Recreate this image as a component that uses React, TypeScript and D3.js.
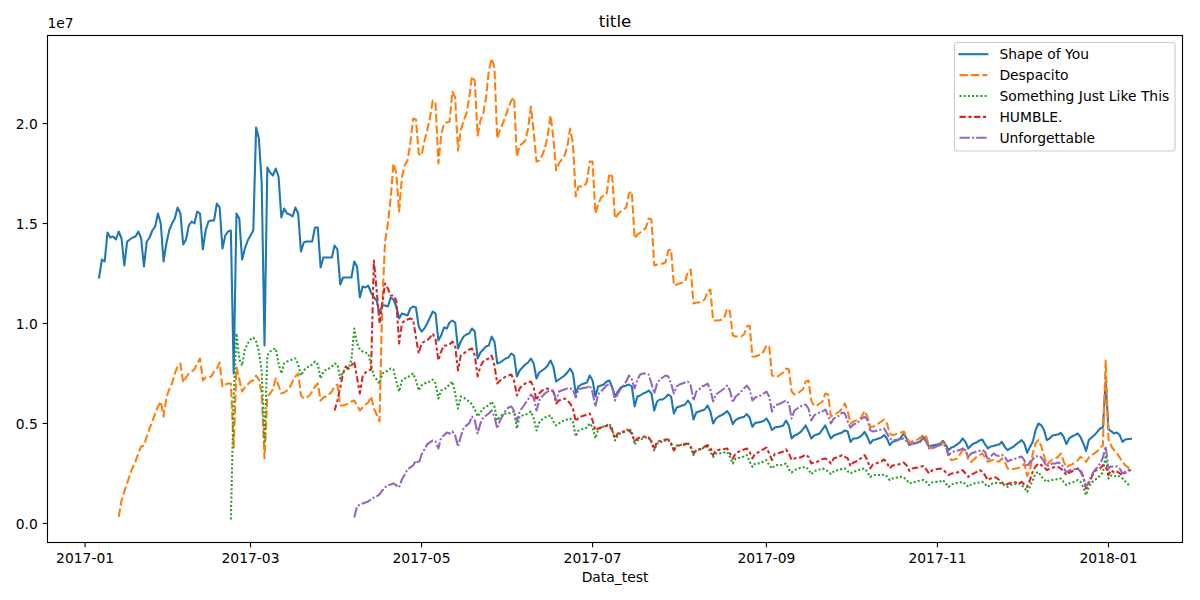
import React from "react";
import * as d3 from "d3";

// ---- data (daily streams, in millions) ----
const seriesNames = ["Shape of You", "Despacito", "Something Just Like This", "HUMBLE.", "Unforgettable"];
const seriesColors = ["#1f77b4", "#ff7f0e", "#2ca02c", "#d62728", "#9467bd"];
// seaborn style dashes (in units of line width)
const seriesDashes: number[][] = [[], [4, 1.5], [1, 1], [3, 1.25, 1.5, 1.25], [5, 1, 1, 1]];
const seriesStarts = ["2017-01-06", "2017-01-13", "2017-02-22", "2017-03-31", "2017-04-07"];

const shapeOfYou = [
  12.3, 13.2,
  13.1, 14.55, 14.3, 14.35, 14.2, 14.6, 14.25,
  12.9, 14.1, 14.2, 14.3, 14.35, 14.6, 14.25,
  12.85, 14.1, 14.3, 14.65, 14.85, 15.5, 15.0,
  13.1, 14.0, 14.65, 15.0, 15.25, 15.8, 15.5,
  13.95, 14.2, 14.9, 15.1, 15.0, 15.6, 15.5,
  13.7, 14.65, 15.1, 15.15, 15.15, 16.0, 15.8,
  13.75, 14.4, 14.6, 14.65, 7.5, 15.5, 15.25,
  13.2, 13.75, 14.15, 14.4, 14.65, 19.8, 19.25,
  17.0, 8.9, 17.8, 17.55, 17.4, 17.75, 17.35,
  15.3, 15.75, 15.5, 15.45, 15.35, 15.8, 15.5,
  13.6, 14.05, 14.1, 14.1, 14.1, 14.8, 14.8,
  12.8, 13.3, 13.3, 13.3, 13.3, 13.9, 13.7,
  11.95, 12.3, 12.3, 12.3, 12.3, 13.1, 12.85,
  11.3, 11.85, 11.8, 11.9, 11.55, 11.3, 11.15,
  10.5, 10.9, 10.9, 10.85, 11.3, 11.2, 10.85,
  10.25, 10.5, 10.45, 10.4, 10.75, 10.85, 10.8,
  9.85, 9.6, 9.75, 10.0, 10.3, 10.6, 10.5,
  9.15, 9.4, 9.8, 9.75, 10.05, 10.15, 10.05,
  8.75, 9.1, 9.35, 9.45, 9.5, 9.75, 9.6,
  8.25, 8.55, 8.7, 8.85, 8.9, 9.35, 9.1,
  8.0, 8.05, 8.15, 8.25, 8.3, 8.5, 8.4,
  7.35, 7.65, 7.8, 7.95, 8.05, 8.25, 8.0,
  7.25, 7.55, 7.65, 7.75, 7.9, 8.15, 7.85,
  7.1, 7.2, 7.3, 7.4, 7.55, 7.75, 7.5,
  6.5, 6.85, 6.95, 7.0, 7.05, 7.4, 7.15,
  6.35, 6.85, 6.9, 6.95, 7.1, 7.15, 6.8,
  6.35, 6.6, 6.8, 6.85, 6.9, 6.95, 6.85,
  5.85, 6.35, 6.4, 6.5, 6.55, 6.65, 6.5,
  5.65, 6.1, 6.2, 6.2, 6.3, 6.45, 6.35,
  5.5, 5.8, 5.85, 5.9, 5.95, 6.15, 5.95,
  5.2, 5.55, 5.6, 5.65, 5.7, 5.9, 5.6,
  5.0, 5.25, 5.35, 5.42, 5.5, 5.62, 5.42,
  4.97, 5.17, 5.25, 5.3, 5.33, 5.47, 5.3,
  4.83, 5.03, 5.05, 5.08, 5.12, 5.25, 5.03,
  4.67, 4.8, 4.83, 4.85, 4.9, 5.15, 4.9,
  4.25, 4.4, 4.45, 4.55, 4.7, 4.9, 4.6,
  4.25, 4.4, 4.45, 4.5, 4.7, 4.9, 4.55,
  4.25, 4.4, 4.45, 4.5, 4.55, 4.65, 4.6,
  4.08, 4.25, 4.25, 4.3, 4.4, 4.58, 4.33,
  4.0, 4.17, 4.2, 4.25, 4.3, 4.42, 4.25,
  3.92, 4.08, 4.12, 4.17, 4.3, 4.5, 4.25,
  3.92, 4.0, 4.0, 4.05, 4.12, 4.33, 4.17,
  3.83, 3.9, 3.92, 3.95, 4.0, 4.13, 3.92,
  3.67, 3.8, 3.85, 3.95, 4.05, 4.25, 4.08,
  3.75, 3.9, 4.0, 4.05, 4.15, 4.2, 3.95,
  3.75, 3.85, 3.87, 3.92, 3.95, 4.08, 3.83,
  3.67, 3.75, 3.83, 3.95, 4.05, 4.17, 4.0,
  3.53, 3.83, 4.08, 4.67, 5.0, 4.92, 4.67,
  4.17, 4.25, 4.4, 4.42, 4.45, 4.53, 4.33,
  3.97, 4.25, 4.35, 4.42, 4.5, 4.33, 4.0,
  3.63, 4.17, 4.3, 4.42, 4.58, 4.75, 4.8,
  7.1, 4.7, 4.6, 4.5, 4.55, 4.42, 4.08,
  4.2, 4.22, 4.23,
];

const despacito = [
  0.33, 1.15,
  1.6, 2.0, 2.45, 2.8, 3.1, 3.5, 3.85,
  3.9, 4.35, 4.75, 5.1, 5.5, 5.85, 6.1,
  5.35, 6.3, 6.7, 7.0, 7.5, 7.85, 8.0,
  7.05, 7.3, 7.5, 7.6, 7.7, 8.0, 8.25,
  7.15, 7.3, 7.3, 7.35, 7.6, 7.75, 8.05,
  6.85, 6.95, 7.0, 7.0, 3.8, 7.8, 7.2,
  6.6, 6.8, 6.95, 7.1, 7.15, 7.4, 7.2,
  6.5, 3.25, 6.35, 6.5, 6.7, 7.25, 6.9,
  6.5, 6.55, 6.65, 6.8, 7.1, 7.35, 7.5,
  6.4, 6.25, 6.3, 6.4, 6.6, 6.85, 7.0,
  6.15, 6.3, 6.35, 6.45, 6.6, 6.85, 6.95,
  5.9, 5.9, 5.95, 6.0, 6.1, 6.15, 5.9,
  5.65, 5.8, 5.95, 6.05, 6.35, 5.75, 5.45,
  5.1, 11.0, 14.1, 15.0, 16.3, 18.0, 17.5,
  15.6, 17.3, 17.9, 18.15, 19.0, 20.25, 20.2,
  18.5, 18.4, 19.1, 19.65, 20.3, 21.15, 21.0,
  18.0, 19.4, 20.0, 20.05, 20.1, 21.6, 21.3,
  18.65, 19.65, 20.15, 20.5, 21.3, 22.35, 22.15,
  19.4, 20.15, 20.5, 21.3, 22.65, 23.25, 22.8,
  19.25, 19.7, 20.0, 20.4, 20.8, 21.15, 21.3,
  18.35, 18.9, 19.0, 19.15, 19.75, 20.85, 19.6,
  18.1, 18.15, 18.4, 18.75, 19.4, 20.4, 19.3,
  17.65, 18.0, 18.2, 18.4, 18.85, 19.75, 19.0,
  16.35, 16.85, 16.85, 16.85, 17.1, 18.1, 18.1,
  15.5, 15.95, 16.3, 16.4, 16.45, 17.5, 17.35,
  15.25, 15.45, 15.6, 15.7, 15.8, 16.5, 16.6,
  14.25, 14.45, 14.55, 14.65, 14.8, 15.25, 15.2,
  12.9, 12.95, 12.95, 13.0, 13.05, 13.65, 13.7,
  11.9, 11.95, 12.0, 12.05, 12.1, 12.6, 12.7,
  11.0, 11.05, 11.05, 11.1, 11.2, 11.6, 11.7,
  10.15, 10.15, 10.15, 10.2, 10.3, 10.75, 10.6,
  9.4, 9.35, 9.35, 9.35, 9.45, 9.85, 9.9,
  8.35, 8.35, 8.4, 8.45, 8.6, 8.9, 8.85,
  7.4, 7.35, 7.35, 7.45, 7.55, 7.75, 7.7,
  6.6, 6.45, 6.5, 6.6, 6.7, 7.1, 7.15,
  6.15, 5.9, 5.9, 6.0, 6.1, 6.5, 6.45,
  5.35, 5.45, 5.5, 5.6, 5.75, 6.0, 5.6,
  5.0, 5.1, 5.15, 5.2, 5.35, 5.63, 5.35,
  4.83, 4.85, 4.9, 5.0, 5.1, 5.2, 5.0,
  4.5, 4.42, 4.45, 4.5, 4.55, 4.6, 4.3,
  4.08, 4.1, 4.15, 4.2, 4.3, 4.45, 4.35,
  3.85, 3.75, 3.8, 3.85, 3.95, 4.05, 3.9,
  3.33, 3.17, 3.2, 3.25, 3.45, 3.67, 3.7,
  3.17, 3.08, 3.2, 3.33, 3.42, 3.5, 3.3,
  3.08, 3.15, 3.17, 3.1, 3.1, 3.25, 3.1,
  2.75, 2.7, 2.72, 2.75, 2.78, 2.83, 3.0,
  2.37, 2.67, 3.5, 4.0, 4.17, 3.87, 3.4,
  2.92, 3.08, 3.2, 3.25, 3.33, 3.5, 3.1,
  2.8, 2.9, 2.95, 3.05, 3.15, 3.33, 3.25,
  3.08, 3.3, 3.42, 3.5, 3.6, 3.8, 3.9,
  8.15, 4.2, 3.87, 3.67, 3.5, 3.3, 3.08,
  2.9, 2.8, 2.75,
];

const somethingJustLikeThis = [
  0.2, 6.3, 9.5, 8.2,
  7.9, 8.7, 9.0, 9.2, 9.3, 9.1, 8.6,
  7.6, 4.0, 8.4, 8.6, 8.7, 8.75, 8.0,
  7.5, 8.0, 8.1, 8.15, 8.2, 8.25, 7.95,
  7.4, 7.65, 7.8, 7.85, 7.95, 8.1, 7.95,
  7.25, 7.6, 7.7, 7.75, 7.85, 8.0, 7.95,
  7.25, 7.6, 7.7, 7.75, 8.2, 9.75, 9.0,
  8.7, 8.6, 8.55, 8.5, 7.9, 7.4, 7.2,
  7.0, 7.5, 7.55, 7.65, 7.75, 7.7, 7.1,
  6.6, 7.15, 7.25, 7.3, 7.4, 7.5, 7.15,
  6.65, 6.9, 7.0, 7.05, 7.1, 7.2, 7.0,
  6.25, 6.65, 6.7, 6.8, 6.95, 7.1, 6.5,
  5.75, 6.35, 6.3, 6.2, 6.1, 5.95, 5.7,
  5.35, 5.55, 5.75, 5.85, 5.9, 6.1, 5.85,
  5.15, 5.35, 5.45, 5.5, 5.5, 5.55, 5.6,
  4.75, 5.35, 5.4, 5.45, 5.5, 5.6, 5.25,
  4.65, 5.05, 5.2, 5.3, 5.35, 5.4, 5.1,
  4.9, 5.0, 5.1, 5.15, 5.2, 5.25, 5.1,
  4.35, 4.65, 4.7, 4.75, 4.8, 5.0, 4.8,
  4.25, 4.7, 4.8, 4.85, 4.9, 5.0, 4.75,
  4.15, 4.4, 4.5, 4.55, 4.65, 4.75, 4.6,
  3.95, 4.15, 4.2, 4.25, 4.3, 4.3, 4.05,
  3.65, 4.0, 4.05, 4.1, 4.15, 4.17, 4.0,
  3.65, 3.9, 3.92, 3.95, 4.0, 4.02, 3.83,
  3.42, 3.67, 3.7, 3.75, 3.8, 3.83, 3.58,
  3.33, 3.5, 3.5, 3.52, 3.55, 3.58, 3.33,
  3.0, 3.25, 3.27, 3.3, 3.35, 3.42, 3.1,
  2.83, 3.0, 3.0, 3.03, 3.1, 3.17, 2.92,
  2.75, 2.9, 2.92, 2.92, 2.95, 3.0, 2.7,
  2.55, 2.67, 2.72, 2.77, 2.8, 2.83, 2.7,
  2.47, 2.6, 2.67, 2.7, 2.75, 2.7, 2.6,
  2.47, 2.6, 2.65, 2.7, 2.72, 2.75, 2.6,
  2.5, 2.58, 2.62, 2.67, 2.72, 2.75, 2.58,
  2.33, 2.42, 2.42, 2.42, 2.42, 2.45, 2.35,
  2.17, 2.25, 2.28, 2.3, 2.33, 2.3, 2.17,
  2.0, 2.05, 2.08, 2.12, 2.15, 2.17, 2.08,
  1.92, 2.05, 2.08, 2.08, 2.1, 2.17, 2.0,
  1.83, 1.95, 2.0, 2.03, 2.05, 2.08, 1.97,
  1.83, 1.95, 2.0, 2.03, 2.05, 2.08, 1.97,
  1.83, 1.97, 2.0, 2.03, 2.02, 2.0, 1.9,
  1.83, 1.92, 1.95, 1.97, 2.0, 1.9, 1.8,
  1.58, 1.85, 2.17, 2.5, 2.58, 2.35, 2.2,
  2.08, 2.17, 2.18, 2.2, 2.22, 2.25, 2.08,
  1.92, 2.0, 2.03, 2.1, 2.17, 2.08, 1.83,
  1.42, 1.85, 2.05, 2.17, 2.25, 2.4, 2.55,
  3.4, 2.25, 2.4, 2.35, 2.4, 2.35, 2.25,
  2.1, 1.95, 1.95,
];

const humble = [
  5.65, 6.15,
  6.8, 7.5, 7.85, 7.75, 7.9, 8.1, 7.3,
  6.5, 7.35, 7.55, 7.65, 7.7, 13.15, 11.65,
  10.0, 11.0, 12.0, 11.75, 11.4, 11.4, 11.15,
  9.0, 10.0, 10.15, 10.2, 10.25, 10.2, 9.3,
  8.5, 9.0, 9.1, 9.15, 9.3, 9.5, 9.2,
  8.15, 8.6, 8.9, 8.9, 8.95, 9.1, 8.85,
  7.65, 8.4, 8.5, 8.6, 8.7, 8.75, 8.4,
  7.35, 7.85, 8.1, 8.2, 8.25, 8.4, 7.9,
  7.0, 7.15, 7.25, 7.35, 7.4, 7.45, 7.15,
  6.4, 6.75, 6.9, 7.0, 7.05, 7.1, 6.8,
  6.15, 6.5, 6.65, 6.7, 6.75, 6.7, 6.6,
  6.0, 6.15, 6.2, 6.25, 6.15, 6.0, 5.75,
  5.1, 5.3, 5.35, 5.4, 5.45, 5.5, 5.15,
  4.65, 4.75, 4.8, 4.85, 4.88, 4.9, 4.65,
  4.25, 4.5, 4.55, 4.6, 4.62, 4.65, 4.5,
  4.1, 4.25, 4.3, 4.33, 4.35, 4.3, 4.1,
  3.7, 4.1, 4.12, 4.15, 4.2, 4.2, 4.0,
  3.65, 3.9, 3.9, 3.92, 3.95, 4.0, 3.83,
  3.5, 3.67, 3.7, 3.75, 3.85, 3.92, 3.8,
  3.42, 3.67, 3.68, 3.7, 3.72, 3.75, 3.5,
  3.25, 3.5, 3.58, 3.65, 3.7, 3.75, 3.58,
  3.25, 3.5, 3.55, 3.65, 3.72, 3.8, 3.5,
  3.17, 3.48, 3.5, 3.55, 3.6, 3.7, 3.5,
  3.17, 3.25, 3.28, 3.3, 3.35, 3.45, 3.33,
  3.0, 3.05, 3.08, 3.15, 3.22, 3.25, 3.17,
  3.0, 3.25, 3.3, 3.35, 3.42, 3.33, 3.25,
  2.87, 3.05, 3.1, 3.17, 3.3, 3.42, 3.17,
  2.75, 2.95, 3.0, 3.05, 3.1, 3.2, 3.03,
  2.75, 2.9, 2.92, 2.95, 3.0, 3.05, 2.9,
  2.63, 2.75, 2.78, 2.8, 2.83, 2.87, 2.7,
  2.5, 2.65, 2.68, 2.72, 2.75, 2.7, 2.55,
  2.42, 2.5, 2.52, 2.55, 2.6, 2.67, 2.5,
  2.33, 2.45, 2.5, 2.58, 2.67, 2.6, 2.4,
  2.17, 2.25, 2.3, 2.3, 2.17, 2.05, 1.92,
  1.97, 2.03, 2.08, 2.05, 2.0, 2.08, 1.95,
  1.83, 2.17, 2.6, 2.85, 3.0, 2.92, 2.83,
  2.67, 2.75, 2.78, 2.82, 2.83, 2.75, 2.6,
  2.42, 2.55, 2.6, 2.7, 2.75, 2.67, 2.35,
  1.75, 2.0, 2.33, 2.6, 2.7, 2.75, 2.92,
  2.85, 2.42, 2.67, 2.55, 2.6, 2.5, 2.42,
  2.55, 2.62, 2.67,
];

const unforgettable = [
  0.3, 0.85,
  0.95, 1.0, 1.05, 1.1, 1.2, 1.3, 1.35,
  1.45, 1.65, 1.8, 1.9, 1.95, 2.0, 1.9,
  1.8, 2.2, 2.45, 2.7, 2.8, 2.9, 3.15,
  3.0, 3.45, 3.7, 3.95, 4.05, 4.15, 4.1,
  3.75, 4.3, 4.4, 4.55, 4.5, 4.6, 4.4,
  3.85, 4.35, 4.75, 4.9, 5.0, 5.35, 5.15,
  4.5, 5.0, 5.3, 5.4, 5.5, 5.65, 5.35,
  4.75, 5.15, 5.4, 5.65, 5.8, 5.85, 5.65,
  5.1, 5.6, 5.8, 6.0, 6.2, 6.45, 6.3,
  5.65, 6.15, 6.35, 6.5, 6.6, 6.65, 6.65,
  6.15, 6.6, 6.65, 6.7, 6.75, 6.75, 6.7,
  6.3, 6.7, 6.75, 6.78, 6.8, 6.9, 6.55,
  5.85, 6.45, 6.6, 6.75, 6.9, 7.0, 6.85,
  6.15, 6.5, 6.7, 6.9, 7.1, 7.4, 7.2,
  6.75, 7.2, 7.45, 7.5, 7.5, 7.45, 7.0,
  6.5, 7.0, 7.2, 7.3, 7.4, 7.35, 7.0,
  6.5, 6.85, 6.95, 7.0, 7.05, 7.1, 6.9,
  6.15, 6.6, 6.7, 6.85, 6.9, 7.0, 6.7,
  6.1, 6.45, 6.55, 6.65, 6.75, 6.9, 6.65,
  6.05, 6.35, 6.45, 6.6, 6.75, 6.9, 6.7,
  6.15, 6.3, 6.35, 6.4, 6.5, 6.6, 6.35,
  5.6, 5.9, 5.95, 6.0, 6.08, 6.15, 6.0,
  5.25, 5.65, 5.75, 5.85, 5.9, 5.95, 5.75,
  5.15, 5.4, 5.5, 5.55, 5.6, 5.7, 5.4,
  5.0, 5.25, 5.3, 5.4, 5.55, 5.5, 5.1,
  4.8, 4.95, 5.0, 5.1, 5.25, 5.33, 5.2,
  4.67, 4.6, 4.62, 4.67, 4.7, 4.75, 4.5,
  4.25, 4.17, 4.18, 4.2, 4.22, 4.25, 4.1,
  3.92, 4.0, 4.03, 4.06, 4.1, 4.25, 4.1,
  3.75, 3.8, 3.83, 3.87, 3.92, 3.97, 3.83,
  3.42, 3.55, 3.6, 3.63, 3.67, 3.75, 3.67,
  3.33, 3.5, 3.55, 3.6, 3.63, 3.67, 3.58,
  3.17, 3.35, 3.5, 3.4, 3.38, 3.42, 3.35,
  3.1, 3.17, 3.2, 3.25, 3.3, 3.35, 3.15,
  2.83, 3.08, 3.2, 3.35, 3.38, 3.3, 3.1,
  2.85, 2.92, 3.0, 3.0, 3.05, 3.0, 2.8,
  2.55, 2.65, 2.7, 2.72, 2.75, 2.6, 2.3,
  1.83, 2.1, 2.42, 2.65, 2.8, 3.0, 3.3,
  3.85, 2.75, 2.85, 2.85, 2.85, 2.75, 2.5,
  2.58, 2.65, 2.75,
];

const seriesValues = [shapeOfYou, despacito, somethingJustLikeThis, humble, unforgettable];

const chartTitle = "title";
const xLabel = "Data_test";

// ---- layout ----
const W = 1200;
const H = 600;
const M = { left: 47.5, right: 1182.5, top: 35.5, bottom: 542.5 };
const FONT = "'DejaVu Sans', sans-serif";
const PT = 100 / 72;
const LW = 1.5 * PT;

type Pt = { date: Date; value: number };

export default function App() {
  const parse = d3.utcParse("%Y-%m-%d");
  const series: Pt[][] = seriesValues.map((vals, i) => {
    const start = parse(seriesStarts[i]) as Date;
    return vals.map((v, j) => ({ date: d3.utcDay.offset(start, j), value: v * 1e6 }));
  });
  const all = series.flat();

  const [dMin, dMax] = d3.extent(all, (d) => +d.date) as [number, number];
  const dPad = (dMax - dMin) * 0.05;
  const x = d3.scaleUtc().domain([new Date(dMin - dPad), new Date(dMax + dPad)]).range([M.left, M.right]);

  const [vMin, vMax] = d3.extent(all, (d) => d.value) as [number, number];
  const vPad = (vMax - vMin) * 0.05;
  const y = d3.scaleLinear().domain([vMin - vPad, vMax + vPad]).range([M.bottom, M.top]);

  const line = d3
    .line<Pt>()
    .x((d) => x(d.date))
    .y((d) => y(d.value));

  const xTicks = x.ticks(d3.utcMonth.every(2) as d3.CountableTimeInterval);
  const xFmt = d3.utcFormat("%Y-%m");
  const yTicks = y.ticks(5);
  const tick = 3.5 * PT;
  const pad = 3.5 * PT;
  const fs = 10 * PT;

  const legend = { x: 954.5, y: 42.5, w: 220.5, h: 108.5, row0: 54.2, step: 20.9 };

  const dash = (i: number) => (seriesDashes[i].length ? seriesDashes[i].map((d) => d * LW).join(",") : undefined);

  return (
    <svg
      width={W}
      height={H}
      style={{ position: "absolute", left: 0, top: 0, background: "#fff" }}
      fontFamily={FONT}
    >
      <rect x={0} y={0} width={W} height={H} fill="#fff" />
      {/* lines */}
      <g>
        {series.map((s, i) => (
          <path
            key={i}
            d={line(s) || ""}
            fill="none"
            stroke={seriesColors[i]}
            strokeWidth={LW}
            strokeDasharray={dash(i)}
            strokeLinejoin="round"
            strokeLinecap={i === 0 ? "square" : "butt"}
          />
        ))}
      </g>
      {/* frame */}
      <rect
        x={M.left}
        y={M.top}
        width={M.right - M.left}
        height={M.bottom - M.top}
        fill="none"
        stroke="#000"
        strokeWidth={0.8 * PT}
      />
      {/* x axis */}
      <g>
        {xTicks.map((t, i) => (
          <g key={i}>
            <line x1={x(t)} x2={x(t)} y1={M.bottom} y2={M.bottom + tick} stroke="#000" strokeWidth={0.8 * PT} />
            <text x={x(t)} y={M.bottom + tick + pad + 10.6} fontSize={fs} textAnchor="middle" fill="#000">
              {xFmt(t)}
            </text>
          </g>
        ))}
        <text x={(M.left + M.right) / 2} y={582} fontSize={fs} textAnchor="middle" fill="#000">
          {xLabel}
        </text>
      </g>
      {/* y axis */}
      <g>
        {yTicks.map((t, i) => (
          <g key={i}>
            <line x1={M.left - tick} x2={M.left} y1={y(t)} y2={y(t)} stroke="#000" strokeWidth={0.8 * PT} />
            <text x={M.left - tick - pad} y={y(t) + 5.3} fontSize={fs} textAnchor="end" fill="#000">
              {(t / 1e7).toFixed(1)}
            </text>
          </g>
        ))}
        <text x={M.left} y={28.4} fontSize={fs} textAnchor="start" fill="#000">
          1e7
        </text>
      </g>
      {/* title */}
      <text x={(M.left + M.right) / 2} y={27.2} fontSize={12 * PT} textAnchor="middle" fill="#000">
        {chartTitle}
      </text>
      {/* legend */}
      <g>
        <rect
          x={legend.x}
          y={legend.y}
          width={legend.w}
          height={legend.h}
          rx={2.8}
          fill="#fff"
          fillOpacity={0.8}
          stroke="#cccccc"
          strokeWidth={0.8 * PT}
        />
        {seriesNames.map((n, i) => {
          const cy = legend.row0 + i * legend.step;
          return (
            <g key={n}>
              <line
                x1={959.5}
                x2={987.3}
                y1={cy}
                y2={cy}
                stroke={seriesColors[i]}
                strokeWidth={LW}
                strokeDasharray={dash(i)}
                strokeLinecap={i === 0 ? "square" : "butt"}
              />
              <text x={999.4} y={cy + 5} fontSize={fs} fill="#000">
                {n}
              </text>
            </g>
          );
        })}
      </g>
    </svg>
  );
}
